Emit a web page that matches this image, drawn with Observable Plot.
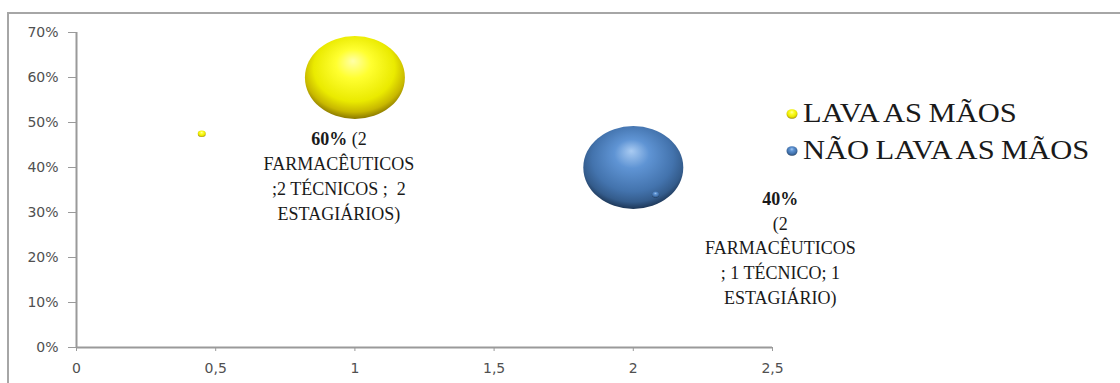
<!DOCTYPE html>
<html>
<head>
<meta charset="utf-8">
<script src="https://cdn.jsdelivr.net/npm/d3@7"></script>
<script src="https://cdn.jsdelivr.net/npm/@observablehq/plot@0.6"></script>
</head>
<body style="margin:0;padding:0;background:#fff">
<div id="wrap" style="position:relative;width:1120px;height:383px;overflow:hidden">
  <div id="frame" style="position:absolute;left:7px;top:12px;width:1200px;height:500px;border-top:2px solid #a6a6a6;border-left:2px solid #a6a6a6;box-sizing:border-box"></div>
  <div id="chart"></div>
  <div id="legend" style="position:absolute;left:785px;top:95px;font-family:'Liberation Serif',serif;font-size:27px;color:#1a1a1a"></div>
</div>
<script>
// Handwashing among pharmacy staff: share of staff (y) per group (x)
const series = ["LAVA AS MÃOS", "NÃO LAVA AS MÃOS"];
const xValues = [1, 2];
const yValues = [0.60, 0.40];
const bubbleSizes = [1, 1];
// small stray bubbles of each series
const smallX = [0.45, 2.08];
const smallY = [0.475, 0.34];
const smallSizes = [0.0064, 0.0055];
const labels = [
  "60% (2\nFARMACÊUTICOS\n;2 TÉCNICOS ;  2\nESTAGIÁRIOS)",
  "40%\n(2\nFARMACÊUTICOS\n; 1 TÉCNICO; 1\nESTAGIÁRIO)"
];
const xTicks = [0, 0.5, 1, 1.5, 2, 2.5];
const xTickLabels = ["0", "0,5", "1", "1,5", "2", "2,5"];
const yTicks = [0, 0.1, 0.2, 0.3, 0.4, 0.5, 0.6, 0.7];
const yTickLabels = ["0%", "10%", "20%", "30%", "40%", "50%", "60%", "70%"];

const serif = "'Liberation Serif', serif";
const sans = "'DejaVu Sans', sans-serif";
const gradIds = ["sphereYellow", "sphereBlue"];
const bubbles = series.map((s, i) => ({series: s, i, x: xValues[i], y: yValues[i], size: bubbleSizes[i], label: labels[i]}));
const smalls = series.map((s, i) => ({series: s, i, x: smallX[i], y: smallY[i], size: smallSizes[i]}));
const labelOffsets = [{dx: -16, dy: 97}, {dx: 147, dy: 79}];

const chart = Plot.plot({
  width: 1120,
  height: 383,
  marginLeft: 76,
  marginRight: 348,
  marginTop: 32,
  marginBottom: 36,
  style: {background: "transparent", overflow: "visible"},
  x: {domain: [0, 2.5]},
  y: {domain: [0, 0.7]},
  r: {type: "sqrt", domain: [0, 1], range: [0, 50]},
  marks: [
    Plot.axisY({ticks: yTicks, tickFormat: d => yTickLabels[yTicks.indexOf(d)], tickSize: 8, tickPadding: 10,
      stroke: "#9a9a9a", fill: "#505050", fontSize: 14, fontFamily: sans, label: null}),
    Plot.axisX({ticks: xTicks, tickFormat: d => xTickLabels[xTicks.indexOf(d)], tickSize: 4, tickPadding: 12,
      stroke: "#9a9a9a", fill: "#505050", fontSize: 14, fontFamily: sans, label: null}),
    Plot.ruleX([0], {stroke: "#9a9a9a", strokeWidth: 2}),
    Plot.ruleY([0], {stroke: "#9a9a9a", strokeWidth: 2}),
    ...series.map((s, i) => Plot.dot(bubbles.filter(d => d.i === i), {x: "x", y: "y", r: "size", fill: `url(#${gradIds[i]})`, className: "bubble"})),
    ...series.map((s, i) => Plot.dot(smalls.filter(d => d.i === i), {x: "x", y: "y", r: "size", fill: `url(#${gradIds[i]})`, className: "bubble"})),
    ...series.map((s, i) => Plot.text(bubbles.filter(d => d.i === i), {
      x: "x", y: "y", text: "label", dx: labelOffsets[i].dx, dy: labelOffsets[i].dy,
      lineAnchor: "middle", lineHeight: 1.38, fontSize: 18, fontFamily: serif,
      fill: "#1a1a1a", textAnchor: "middle", className: "bubble-label"}))
  ]
});

const svg = d3.select(chart);
const defs = svg.insert("defs", ":first-child");
function sphere(id, stops) {
  const g = defs.append("radialGradient").attr("id", id)
    .attr("cx", "50%").attr("cy", "42%").attr("r", "58%").attr("fx", "48%").attr("fy", "30%");
  stops.forEach(([o, c]) => g.append("stop").attr("offset", o).attr("stop-color", c));
}
sphere("sphereYellow", [["0%", "#ffffa8"], ["30%", "#ffff30"], ["70%", "#eaea00"], ["88%", "#c8b800"], ["100%", "#8a7800"]]);
sphere("sphereBlue", [["0%", "#a9cbf2"], ["30%", "#5f94d4"], ["70%", "#4373ad"], ["88%", "#345c8c"], ["100%", "#1d3656"]]);

// flatten the spheres slightly
svg.selectAll(".bubble circle").each(function () {
  const c = d3.select(this);
  const cx = +c.attr("cx") || 0, cy = +c.attr("cy") || 0;
  c.attr("transform", `translate(${cx},${cy}) scale(1,0.83) translate(${-cx},${-cy})`);
});

// tick label font
svg.selectAll("g[aria-label='y-axis tick label'], g[aria-label='x-axis tick label']")
  .style("font-family", sans).style("font-size", "14px")
  .selectAll("text").style("font-family", sans).style("font-size", "14px");

// label font, with the percentage in bold
svg.selectAll(".bubble-label text").each(function () {
  const t = d3.select(this);
  t.style("font-family", serif).style("font-size", "18px");
  const first = t.select("tspan").empty() ? t : t.select("tspan");
  const txt = first.text();
  const m = txt.match(/^(\d+%)(.*)$/);
  if (m) {
    first.text(null);
    first.append("tspan").style("font-weight", "bold").text(m[1]);
    if (m[2]) first.append("tspan").text(m[2]);
  }
});

document.getElementById("chart").appendChild(chart);
chart.style.position = "absolute";
chart.style.left = "0px";
chart.style.top = "0px";

// legend
const legend = d3.select("#legend");
series.forEach((s, i) => {
  const row = legend.append("div")
    .style("display", "flex").style("align-items", "center").style("height", "37px").style("white-space", "nowrap");
  const m = row.append("svg").attr("width", 14).attr("height", 14).style("margin-right", "4px");
  m.append("ellipse").attr("cx", 7).attr("cy", 7).attr("rx", 5.5).attr("ry", 4.8).attr("fill", `url(#${gradIds[i]})`);
  row.append("span").style("font-family", serif).style("display", "inline-block")
    .style("transform", "scaleX(1.13)").style("transform-origin", "left center")
    .style("word-spacing", "-1px").text(s);
});
</script>
</body>
</html>
